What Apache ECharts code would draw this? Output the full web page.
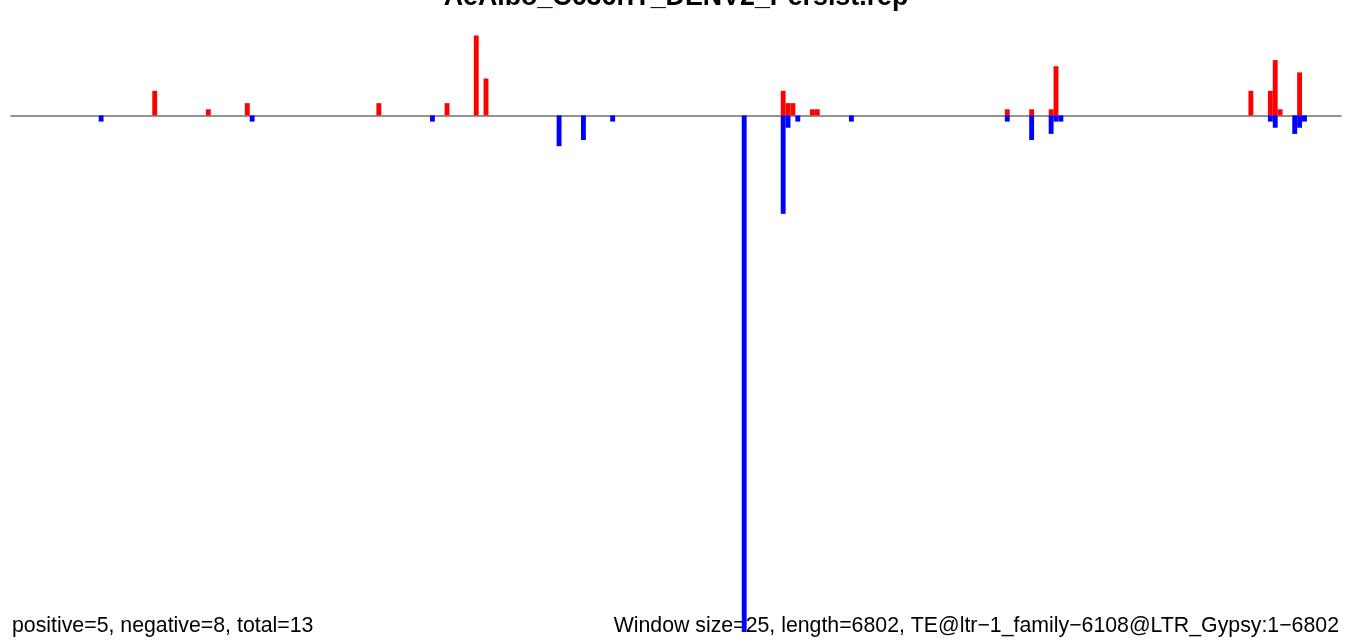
<!DOCTYPE html>
<html>
<head>
<meta charset="utf-8">
<script src="https://cdn.jsdelivr.net/npm/echarts@6/dist/echarts.min.js"></script>
<style>
  html, body { margin: 0; padding: 0; background: #fff; }
  #main { width: 1352px; height: 644px; }
</style>
</head>
<body>
<div id="main"></div>
<script>
// window index (25 bp windows over 1-6802) and read counts
const WINDOW_SIZE = 25;
const TE_LENGTH = 6802;
const posBins = [29, 40, 48, 75, 89, 95, 97, 158, 159, 160, 164, 165, 204, 209, 213, 214, 254, 258, 259, 260, 264];
const posVals = [4, 1, 2, 2, 2, 13, 6, 4, 2, 2, 1, 1, 1, 1, 1, 8, 4, 4, 9, 1, 7];
const negBins = [18, 49, 86, 112, 117, 123, 150, 158, 159, 161, 172, 204, 209, 213, 214, 215, 258, 259, 263, 264, 265];
const negVals = [-1, -1, -1, -5, -4, -1, -84, -16, -2, -1, -1, -1, -4, -3, -1, -1, -1, -2, -3, -2, -1];

const titleText = 'AeAlbo_C636rIT_DENV2_Persist.rep';
const leftNote = 'positive=5, negative=8, total=13';
const rightNote = 'Window size=25, length=6802, TE@ltr\u22121_family\u22126108@LTR_Gypsy:1\u22126802';

var nBins = Math.ceil(TE_LENGTH / WINDOW_SIZE);
var categories = [];
var posData = [];
var negData = [];
for (var i = 0; i < nBins; i++) {
    categories.push(i * WINDOW_SIZE + 1);
    posData.push(null);
    negData.push(null);
}
posBins.forEach(function (b, k) { posData[b] = posVals[k]; });
negBins.forEach(function (b, k) { negData[b] = negVals[k]; });

var myChart = echarts.init(document.getElementById('main'));
var option = {
    animation: false,
    backgroundColor: '#fff',
    grid: {
        left: 11,
        right: 11,
        top: 35.5,
        bottom: 12
    },
    xAxis: {
        type: 'category',
        data: categories,
        boundaryGap: true,
        axisLine: { show: true, onZero: true, lineStyle: { color: '#707070', width: 1.5 } },
        axisTick: { show: false },
        axisLabel: { show: false },
        splitLine: { show: false }
    },
    yAxis: {
        type: 'value',
        min: -84,
        max: 13,
        show: false,
        splitLine: { show: false }
    },
    graphic: [
        {
            type: 'text',
            z: 0,
            style: {
                x: 676, y: -2.3,
                text: titleText,
                fill: '#000',
                font: 'bold 26.8px "Liberation Sans", Arial, sans-serif',
                align: 'center',
                verticalAlign: 'middle'
            }
        },
        {
            type: 'text',
            z: 0,
            style: {
                x: 12, y: 626.5,
                text: leftNote,
                fill: '#000',
                font: '21.3px "Liberation Sans", Arial, sans-serif',
                align: 'left',
                verticalAlign: 'middle'
            }
        },
        {
            type: 'text',
            z: 0,
            style: {
                x: 1339, y: 626.5,
                text: rightNote,
                fill: '#000',
                font: '21.3px "Liberation Sans", Arial, sans-serif',
                align: 'right',
                verticalAlign: 'middle'
            }
        }
    ],
    series: [
        {
            name: 'positive',
            type: 'bar',
            data: posData,
            barGap: '-100%',
            barCategoryGap: '0%',
            itemStyle: { color: '#ff0000' },
            z: 5
        },
        {
            name: 'negative',
            type: 'bar',
            data: negData,
            barGap: '-100%',
            barCategoryGap: '0%',
            itemStyle: { color: '#0000ff' },
            z: 5
        }
    ]
};
myChart.setOption(option);
</script>
</body>
</html>
